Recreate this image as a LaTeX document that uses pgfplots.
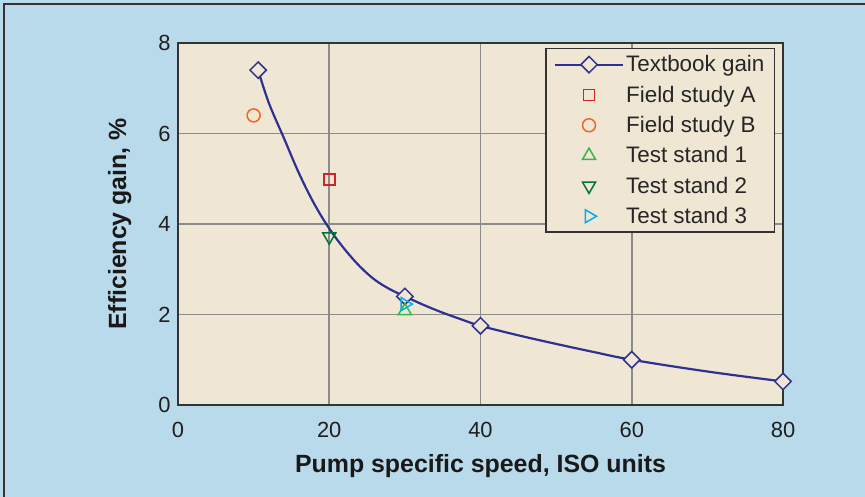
\documentclass[border=0pt]{standalone}
\usepackage{pgfplots}
\pgfplotsset{compat=1.18}
\usepackage{fontspec}
\setmainfont{Liberation Sans}
\definecolor{bgblue}{RGB}{184,218,234}
\definecolor{beige}{RGB}{240,230,212}
\definecolor{gridgray}{RGB}{140,140,140}
\definecolor{navy}{RGB}{46,49,146}
\definecolor{sqred}{RGB}{210,35,42}
\definecolor{circorange}{RGB}{242,101,34}
\definecolor{tgreen}{RGB}{57,181,74}
\definecolor{tdgreen}{RGB}{0,117,58}
\definecolor{tcyan}{RGB}{0,174,239}
\begin{document}
\begin{tikzpicture}[x=1bp,y=1bp]
\useasboundingbox (-178,-92) rectangle (687,405);
\fill[bgblue] (-178,-92) rectangle (687,405);
\draw[black!80,line width=1.5bp] (-174,-120) -- (-174,401) -- (720,401);
\begin{axis}[
  at={(0,0)}, anchor=south west,
  width=605bp, height=362bp, scale only axis,
  xmin=0, xmax=80, ymin=0, ymax=8,
  xtick={0,20,40,60,80}, ytick={0,2,4,6,8},
  axis background/.style={fill=beige},
  axis line style={black!80,line width=1.8bp},
  grid=major,
  major grid style={gridgray,line width=1.8bp},
  major tick length=0pt,
  /pgf/number format/assume math mode=true,
  ticklabel style={font=\fontsize{22}{25}\selectfont, text=black!88},
  xticklabel style={yshift=-14bp},
  yticklabel style={xshift=-4bp},
  xlabel={\bfseries Pump specific speed, ISO units},
  ylabel={\bfseries Efficiency gain, \%},
  label style={font=\fontsize{25}{28}\selectfont\bfseries, text=black!90},
  xlabel style={yshift=-10bp},
  ylabel style={yshift=20bp},
  legend cell align=left,
  legend style={at={(0.987,0.986)}, anchor=north east, fill=beige, draw=black!80, line width=1.4bp,
    font=\fontsize{22.5}{25}\selectfont, text=black!85,
    row sep=8.6bp, inner xsep=8bp, inner ysep=5bp},
]
\addplot[navy, line width=2.2bp, smooth, tension=0.6, forget plot] coordinates {
(10.6,7.4)(12,6.68)(14,5.9)(16,5.12)(18,4.45)(20,3.9)(22,3.45)(24,3.07)(26,2.77)(28,2.56)(30,2.4)(32.5,2.21)(35,2.04)(37.5,1.89)(40,1.75)(45,1.54)(50,1.35)(55,1.17)(60,1.0)(70,0.74)(80,0.52)};
\addplot[navy, line width=2bp, only marks, mark=square*, mark size=5.8bp,
  mark options={rotate=45, fill=beige, line width=1.5bp},
  legend image code/.code={\draw[navy,line width=2.2bp] (0bp,0bp) -- (68bp,0bp);
     \draw[navy,fill=beige,line width=1.5bp,rotate around={45:(34bp,0bp)}] (28.2bp,-5.8bp) rectangle (39.8bp,5.8bp);}]
  coordinates {(10.6,7.4)(30,2.4)(40,1.75)(60,1.0)(80,0.52)};
\addlegendentry{Textbook gain}
\addplot[sqred, only marks, mark=square, mark size=5.5bp, mark options={line width=1.5bp},
  legend image code/.code={\draw[mark=square,mark size=5.5bp,line width=1.5bp] plot coordinates {(34bp,0bp)};}]
  coordinates {(20,4.98)};
\addlegendentry{Field study A}
\addplot[circorange, only marks, mark=o, mark size=6.5bp, mark options={line width=1.5bp},
  legend image code/.code={\draw[mark=o,mark size=6.5bp,line width=1.5bp] plot coordinates {(34bp,0bp)};}]
  coordinates {(10.0,6.4)};
\addlegendentry{Field study B}
\addplot[tgreen, only marks, mark=triangle, mark size=7.5bp, mark options={line width=1.5bp},
  legend image code/.code={\draw[mark=triangle,mark size=7.5bp,line width=1.5bp] plot coordinates {(34bp,0bp)};}]
  coordinates {(30,2.08)};
\addlegendentry{Test stand 1}
\addplot[tdgreen, only marks, mark=triangle, mark size=7.5bp, mark options={line width=1.5bp, rotate=180},
  legend image code/.code={\draw[mark=triangle,mark size=7.5bp,line width=1.5bp,mark options={rotate=180}] plot coordinates {(34bp,0bp)};}]
  coordinates {(20,3.72)};
\addlegendentry{Test stand 2}
\addplot[tcyan, only marks, mark=triangle, mark size=7.5bp, mark options={line width=1.5bp, rotate=-90},
  legend image code/.code={\draw[mark=triangle,mark size=7.5bp,line width=1.5bp,mark options={rotate=-90}] plot coordinates {(34bp,0bp)};}]
  coordinates {(30,2.23)};
\addlegendentry{Test stand 3}
\end{axis}
\end{tikzpicture}
\end{document}
